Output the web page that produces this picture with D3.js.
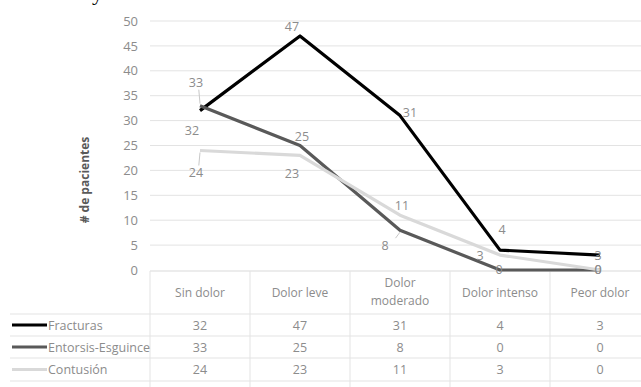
<!DOCTYPE html>
<html>
<head>
<meta charset="utf-8">
<script src="https://cdn.jsdelivr.net/npm/d3@7"></script>
<style>
  body { margin: 0; background: #fff; }
  svg text { font-family: "Liberation Sans Narrow", "Open Sans", sans-serif; }
</style>
</head>
<body>
<div id="chart"></div>
<script>
// categories and series
const categories = ["Sin dolor", "Dolor leve", "Dolor moderado", "Dolor intenso", "Peor dolor"];
const headerLines = [["Sin dolor"], ["Dolor leve"], ["Dolor", "moderado"], ["Dolor intenso"], ["Peor dolor"]];
const seriesNames = ["Fracturas", "Entorsis-Esguince", "Contusión"];
const fracturas = [32, 47, 31, 4, 3];
const entorsis = [33, 25, 8, 0, 0];
const contusion = [24, 23, 11, 3, 0];
const yTicks = [0, 5, 10, 15, 20, 25, 30, 35, 40, 45, 50];

const colors = ["#000000", "#595959", "#d9d9d9"];
// label offsets from each point (dx, dy)
const labelOffsets = [
    [[-8, 20], [-8, -9], [10, -3], [2, -21], [-2, 0]],
    [[-4, -23], [2, -9], [-15, 15], [-1, -1], [-2, -1]],
    [[-4, 22], [-8, 18], [2, -10], [-20, 0], [-2, -1]]
];

const width = 641, height = 387;
const svg = d3.select("#chart").append("svg")
    .attr("width", width)
    .attr("height", height);

// scales
const xScale = d3.scaleBand().domain(categories).range([150, 650]);
const yScale = d3.scaleLinear().domain([0, 50]).range([270, 21]);
const cx = c => xScale(c) + xScale.bandwidth() / 2;

// remnant of text above the chart
svg.append("text").attr("x", 92).attr("y", 0)
    .style("font-family", "Liberation Serif, serif")
    .style("font-size", "22px").attr("fill", "#000").text("y");

// gridlines
svg.append("g").selectAll("line")
    .data(yTicks.filter(d => d > 0))
    .enter().append("line")
    .attr("x1", 150).attr("x2", width)
    .attr("y1", d => yScale(d)).attr("y2", d => yScale(d))
    .attr("stroke", "#e3e3e3").attr("stroke-width", 1);

// y axis labels
const yAxis = d3.axisLeft(yScale).tickValues(yTicks).tickSize(0).tickPadding(0);
const yg = svg.append("g").attr("transform", "translate(138,0)").call(yAxis);
yg.select(".domain").remove();
yg.selectAll("text").attr("fill", "#8c8c8c").style("font-size", "13px")
    .style("font-family", "Liberation Sans Narrow, Open Sans, sans-serif");

// y axis title
svg.append("text")
    .attr("transform", "translate(89,180) rotate(-90)")
    .attr("text-anchor", "middle")
    .attr("fill", "#595959")
    .style("font-size", "12px")
    .style("font-weight", "bold")
    .text("# de pacientes");

// data table
const rowTops = [271, 314, 336, 358, 381];
const table = svg.append("g");
table.append("line").attr("x1", 150).attr("x2", width)
    .attr("y1", rowTops[0]).attr("y2", rowTops[0]).attr("stroke", "#d9d9d9");
rowTops.slice(1).forEach(y => {
    table.append("line").attr("x1", 10).attr("x2", width)
        .attr("y1", y).attr("y2", y).attr("stroke", "#e3e3e3");
});
categories.forEach(c => {
    table.append("line").attr("x1", xScale(c)).attr("x2", xScale(c))
        .attr("y1", rowTops[0]).attr("y2", height).attr("stroke", "#e3e3e3");
});

// header labels
headerLines.forEach((lines, i) => {
    const t = table.append("text")
        .attr("x", cx(categories[i]))
        .attr("text-anchor", "middle")
        .attr("fill", "#8c8c8c")
        .style("font-size", "12px");
    const y0 = lines.length === 1 ? 297 : 287;
    lines.forEach((l, j) => {
        t.append("tspan").attr("x", cx(categories[i])).attr("y", y0 + j * 18).text(l);
    });
});

const allSeries = [fracturas, entorsis, contusion];

// rows with legend keys
allSeries.forEach((vals, s) => {
    const mid = (rowTops[s + 1] + rowTops[s + 2]) / 2;
    table.append("line").attr("x1", 12).attr("x2", 47)
        .attr("y1", mid).attr("y2", mid)
        .attr("stroke", colors[s]).attr("stroke-width", 3);
    table.append("text").attr("x", 48).attr("y", mid + 4.5)
        .attr("fill", "#8c8c8c").style("font-size", "12.5px")
        .text(seriesNames[s]);
    vals.forEach((v, i) => {
        table.append("text").attr("x", cx(categories[i])).attr("y", mid + 4.5)
            .attr("text-anchor", "middle")
            .attr("fill", "#8c8c8c").style("font-size", "12.5px")
            .text(v);
    });
});

// lines
const line = d3.line()
    .x((d, i) => cx(categories[i]))
    .y(d => yScale(d));

allSeries.forEach((vals, s) => {
    svg.append("path")
        .datum(vals)
        .attr("d", line)
        .attr("fill", "none")
        .attr("stroke", colors[s])
        .attr("stroke-width", 3.2)
        .attr("stroke-linejoin", "round");
});

// leader lines
const leaders = [[1, 0], [2, 0], [1, 2]];
leaders.forEach(([s, i]) => {
    const px = cx(categories[i]), py = yScale(allSeries[s][i]);
    const [dx, dy] = labelOffsets[s][i];
    const ly = py + dy + (dy < 0 ? 7 : -7);
    svg.append("line")
        .attr("x1", px + dx * 0.3).attr("y1", ly)
        .attr("x2", px).attr("y2", py + (dy < 0 ? -2 : 2))
        .attr("stroke", "#c8c8c8").attr("stroke-width", 1);
});

// data labels
allSeries.forEach((vals, s) => {
    svg.append("g").selectAll("text")
        .data(vals)
        .enter().append("text")
        .attr("x", (d, i) => cx(categories[i]) + labelOffsets[s][i][0])
        .attr("y", (d, i) => yScale(d) + labelOffsets[s][i][1] + 4.5)
        .attr("text-anchor", "middle")
        .attr("fill", "#8c8c8c")
        .style("font-size", "12.5px")
        .text(d => d);
});
</script>
</body>
</html>
